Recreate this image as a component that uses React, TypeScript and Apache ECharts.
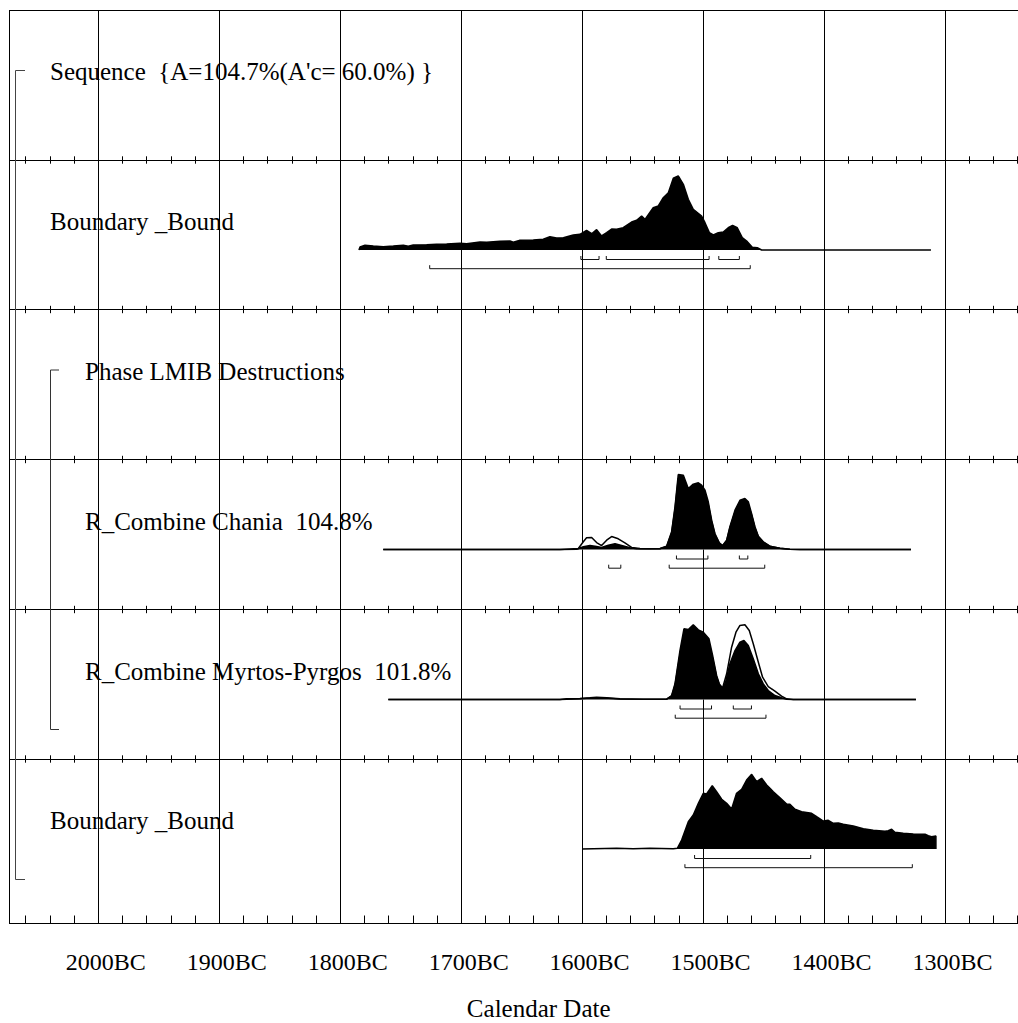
import React, { useEffect, useRef } from "react";
import * as echarts from "echarts";

// ---------- data ----------
const tickYears = [-2000, -1900, -1800, -1700, -1600, -1500, -1400, -1300];
const tickLabels = ["2000BC", "1900BC", "1800BC", "1700BC", "1600BC", "1500BC", "1400BC", "1300BC"];

const rowLabels = [
  "Sequence  {A=104.7%(A'c= 60.0%) }",
  "Boundary _Bound",
  "Phase LMIB Destructions",
  "R_Combine Chania  104.8%",
  "R_Combine Myrtos-Pyrgos  101.8%",
  "Boundary _Bound",
];
const axisTitle = "Calendar Date";

// [year (negative = BC), relative probability]
const boundaryStartPosterior: [number, number][] = [
  [-1784.5, 0], [-1783.6, 0.04], [-1779.5, 0.063], [-1772.6, 0.053], [-1764.4, 0.044],
  [-1756.1, 0.053], [-1747.8, 0.063], [-1743.7, 0.049], [-1739.6, 0.067], [-1728.5, 0.071],
  [-1720.3, 0.076], [-1712.0, 0.08], [-1701.0, 0.089], [-1695.5, 0.084], [-1684.4, 0.107],
  [-1678.9, 0.103], [-1667.9, 0.116], [-1659.6, 0.12], [-1656.9, 0.103], [-1651.4, 0.129],
  [-1640.4, 0.133], [-1632.1, 0.143], [-1626.6, 0.177], [-1621.1, 0.16], [-1615.5, 0.164],
  [-1607.3, 0.2], [-1601.8, 0.209], [-1596.3, 0.263], [-1592.1, 0.217], [-1588.0, 0.271],
  [-1583.9, 0.187], [-1579.7, 0.231], [-1575.6, 0.28], [-1571.5, 0.276], [-1566.0, 0.297],
  [-1559.1, 0.373], [-1554.9, 0.396], [-1550.8, 0.453], [-1548.0, 0.409], [-1541.2, 0.564],
  [-1537.0, 0.587], [-1532.9, 0.697], [-1528.7, 0.764], [-1524.6, 0.956], [-1520.5, 0.987],
  [-1516.3, 0.876], [-1512.2, 0.676], [-1508.1, 0.543], [-1501.2, 0.453], [-1498.4, 0.364],
  [-1494.8, 0.231], [-1491.5, 0.2], [-1487.4, 0.231], [-1483.3, 0.24], [-1479.2, 0.297],
  [-1475.6, 0.329], [-1471.7, 0.297], [-1467.6, 0.164], [-1463.4, 0.111], [-1459.3, 0.036],
  [-1455.2, 0.031], [-1451.6, 0], [-1311.6, 0],
];

const chaniaLikelihood: [number, number][] = [
  [-1764.4, 0], [-1618.3, 0], [-1603.1, 0.013], [-1599.0, 0.103], [-1596.3, 0.156],
  [-1592.1, 0.16], [-1588.0, 0.093], [-1583.9, 0.053], [-1579.7, 0.124], [-1575.6, 0.173],
  [-1570.1, 0.143], [-1564.6, 0.089], [-1559.1, 0.027], [-1552.2, 0.013], [-1535.6, 0.01],
  [-1530.1, 0.04], [-1526.0, 0.22], [-1523.2, 0.54], [-1520.5, 0.95], [-1516.3, 0.94],
  [-1512.2, 0.78], [-1508.1, 0.83], [-1503.9, 0.85], [-1501.2, 0.82], [-1498.4, 0.75],
  [-1495.7, 0.6], [-1492.9, 0.37], [-1490.2, 0.2], [-1486.6, 0.085], [-1483.8, 0.05],
  [-1480.5, 0.118], [-1477.8, 0.29], [-1473.6, 0.5], [-1469.5, 0.63], [-1465.4, 0.65],
  [-1462.6, 0.6], [-1459.9, 0.46], [-1457.1, 0.29], [-1454.3, 0.17], [-1450.2, 0.098],
  [-1444.7, 0.042], [-1436.4, 0.016], [-1428.2, 0.004], [-1419.9, 0], [-1328.1, 0],
];

const chaniaPosterior: [number, number][] = [
  [-1764.4, 0], [-1618.3, 0], [-1604.5, 0.004], [-1599.0, 0.036], [-1593.5, 0.053],
  [-1588.0, 0.04], [-1583.9, 0.027], [-1578.3, 0.057], [-1572.8, 0.076], [-1567.3, 0.053],
  [-1560.4, 0.023], [-1554.9, 0.009], [-1543.9, 0.009], [-1535.6, 0.013], [-1530.1, 0.044],
  [-1526.0, 0.236], [-1523.2, 0.569], [-1520.5, 1.0], [-1516.3, 0.991], [-1512.2, 0.813],
  [-1508.1, 0.871], [-1503.9, 0.889], [-1501.2, 0.857], [-1498.4, 0.791], [-1495.7, 0.636],
  [-1492.9, 0.391], [-1490.2, 0.213], [-1486.6, 0.089], [-1483.8, 0.053], [-1480.5, 0.124],
  [-1477.8, 0.303], [-1473.6, 0.524], [-1469.5, 0.657], [-1465.4, 0.68], [-1462.6, 0.636],
  [-1459.9, 0.48], [-1457.1, 0.303], [-1454.3, 0.177], [-1450.2, 0.103], [-1444.7, 0.044],
  [-1436.4, 0.017], [-1428.2, 0.004], [-1419.9, 0], [-1328.1, 0],
];

const myrtosLikelihood: [number, number][] = [
  [-1760.2, 0], [-1618.3, 0], [-1601.8, 0.01], [-1588.0, 0.025], [-1568.7, 0.008],
  [-1530.1, 0.004], [-1526.0, 0.045], [-1523.2, 0.19], [-1519.1, 0.6], [-1515.8, 0.87],
  [-1512.2, 0.86], [-1508.1, 0.92], [-1503.9, 0.86], [-1499.8, 0.83], [-1495.1, 0.75],
  [-1492.1, 0.55], [-1488.8, 0.3], [-1486.6, 0.2], [-1483.8, 0.156], [-1480.5, 0.343],
  [-1476.4, 0.697], [-1472.8, 0.897], [-1469.5, 0.987], [-1465.4, 0.996], [-1461.8, 0.92],
  [-1458.5, 0.743], [-1454.3, 0.497], [-1450.8, 0.297], [-1446.1, 0.173], [-1440.6, 0.111],
  [-1435.1, 0.044], [-1430.9, 0.009], [-1425.4, 0], [-1324.0, 0],
];

const myrtosPosterior: [number, number][] = [
  [-1760.2, 0], [-1618.3, 0], [-1612.8, 0.009], [-1601.8, 0.013], [-1593.5, 0.023],
  [-1588.0, 0.031], [-1579.7, 0.023], [-1568.7, 0.009], [-1549.4, 0.004], [-1530.1, 0.004],
  [-1526.0, 0.053], [-1523.2, 0.209], [-1519.1, 0.653], [-1515.8, 0.943], [-1512.2, 0.933],
  [-1508.1, 0.996], [-1503.9, 0.929], [-1499.8, 0.897], [-1495.1, 0.809], [-1492.1, 0.587],
  [-1488.8, 0.32], [-1486.6, 0.209], [-1483.8, 0.143], [-1481.4, 0.231], [-1477.8, 0.476],
  [-1473.6, 0.653], [-1469.5, 0.764], [-1466.2, 0.787], [-1462.6, 0.72], [-1458.5, 0.543],
  [-1454.3, 0.343], [-1450.2, 0.209], [-1446.1, 0.12], [-1440.6, 0.053], [-1435.1, 0.023],
  [-1430.9, 0.004], [-1425.4, 0], [-1324.0, 0],
];

const boundaryEndPosterior: [number, number][] = [
  [-1600.1, 0], [-1590.7, 0.004], [-1571.5, 0.009], [-1557.7, 0.004], [-1543.9, 0.009],
  [-1524.6, 0.004], [-1521.3, 0.009], [-1517.7, 0.12], [-1512.2, 0.364], [-1508.1, 0.453],
  [-1503.9, 0.609], [-1499.8, 0.743], [-1497.1, 0.733], [-1492.4, 0.844], [-1488.8, 0.764],
  [-1484.6, 0.663], [-1480.5, 0.609], [-1476.4, 0.533], [-1472.3, 0.743], [-1468.1, 0.796],
  [-1464.0, 0.92], [-1459.8, 0.996], [-1455.7, 0.897], [-1451.6, 0.943], [-1447.4, 0.853],
  [-1441.9, 0.764], [-1436.4, 0.684], [-1430.9, 0.6], [-1428.2, 0.596], [-1424.0, 0.529],
  [-1418.5, 0.497], [-1410.3, 0.476], [-1406.1, 0.431], [-1400.6, 0.373], [-1396.5, 0.383],
  [-1392.3, 0.343], [-1388.2, 0.347], [-1384.1, 0.329], [-1375.8, 0.307], [-1367.5, 0.271],
  [-1359.3, 0.249], [-1349.6, 0.236], [-1346.9, 0.244], [-1344.1, 0.263], [-1341.4, 0.223],
  [-1334.5, 0.209], [-1326.2, 0.2], [-1316.5, 0.196], [-1313.8, 0.177], [-1311.1, 0.164],
  [-1307.5, 0.173], [-1307.5, 0],
];

// highest posterior density ranges [from, to]
const boundaryStart68: [number, number][] = [[-1601, -1586], [-1580, -1495], [-1487, -1470]];
const boundaryStart95: [number, number][] = [[-1726, -1461]];
const chania68: [number, number][] = [[-1522, -1496], [-1470, -1463]];
const chania95: [number, number][] = [[-1578, -1568], [-1528, -1449]];
const myrtos68: [number, number][] = [[-1519, -1493], [-1475, -1460]];
const myrtos95: [number, number][] = [[-1523, -1448]];
const boundaryEnd68: [number, number][] = [[-1507, -1411]];
const boundaryEnd95: [number, number][] = [[-1515, -1327]];

// ---------- layout ----------
const X_MIN = -2100;
const X_MAX = -1200;
const PX_PER_YEAR = 1.2096;
const OFFSET_X = 9; // container left in page px
const GRID_LEFT = 98.26 - 100 * PX_PER_YEAR - OFFSET_X;
const GRID_WIDTH = (X_MAX - X_MIN) * PX_PER_YEAR;
const ROW_LINES = [10, 160, 309.5, 459.5, 609.5, 759, 923.5];
const BASE_OFFSET = 90; // px from row top to distribution baseline
const UNIT = 75; // px for relative probability 1
const FONT = "'Liberation Serif', 'Times New Roman', serif";

export default function App() {
  const ref = useRef<HTMLDivElement>(null);

  useEffect(() => {
    if (!ref.current) return;
    const chart = echarts.init(ref.current, undefined, { renderer: "svg" });

    const nRows = ROW_LINES.length - 1;
    const grids: any[] = [];
    const xAxes: any[] = [];
    const yAxes: any[] = [];
    for (let i = 0; i < nRows; i++) {
      const top = ROW_LINES[i];
      const h = ROW_LINES[i + 1] - top;
      grids.push({
        left: GRID_LEFT, width: GRID_WIDTH, top, height: h,
        containLabel: false, outerBoundsMode: "none",
      });
      const last = i === nRows - 1;
      // top axis: row line, downward ticks, vertical grid lines
      xAxes.push({
        type: "value", gridIndex: i, position: "top", min: X_MIN, max: X_MAX, interval: 100,
        axisLine: { show: true, onZero: false, lineStyle: { color: "#000", width: 1 } },
        axisTick: { show: i > 0, inside: true, length: 3.7, lineStyle: { color: "#000", width: 1 } },
        minorTick: { show: i > 0, splitNumber: 5, length: 3.7, lineStyle: { color: "#000", width: 1 } },
        axisLabel: { show: false },
        splitLine: { show: true, lineStyle: { color: "#000", width: 1 } },
      });
      // bottom axis: upward ticks (and labels on last row)
      xAxes.push({
        type: "value", gridIndex: i, position: "bottom", min: X_MIN, max: X_MAX, interval: 100,
        axisLine: { show: last, onZero: false, lineStyle: { color: "#000", width: 1 } },
        axisTick: { show: true, inside: true, length: last ? 8 : 3.7, lineStyle: { color: "#000", width: 1 } },
        minorTick: { show: true, splitNumber: 5, length: last ? 8 : 3.7, lineStyle: { color: "#000", width: 1 } },
        axisLabel: {
          show: last,
          margin: 26,
          padding: [0, 0, 0, 15],
          color: "#000",
          fontFamily: FONT,
          fontSize: 24,
          formatter: (v: number) => {
            const k = tickYears.indexOf(Math.round(v));
            return k >= 0 ? tickLabels[k] : "";
          },
        },
        splitLine: { show: false },
      });
      yAxes.push({
        type: "value", gridIndex: i, show: false,
        min: -(h - BASE_OFFSET) / UNIT, max: BASE_OFFSET / UNIT,
      });
    }

    const series: any[] = [];
    const area = (data: [number, number][], row: number, fill: string, z: number) => ({
      type: "line", xAxisIndex: row * 2, yAxisIndex: row, data, symbol: "none", showSymbol: false,
      silent: true, z, lineStyle: { color: "#000", width: 1.5 },
      areaStyle: { color: fill, opacity: 1 },
    });
    const L1 = -9.5 / UNIT, T1 = -6 / UNIT, L2 = -18.7 / UNIT, T2 = -15.2 / UNIT;
    const ranges = (rs: [number, number][], row: number, lineY: number, tickY: number) =>
      rs.map(([a, b]) => ({
        type: "line", xAxisIndex: row * 2, yAxisIndex: row, symbol: "none", showSymbol: false,
        silent: true, z: 4, lineStyle: { color: "#111", width: 1 },
        data: [[a, tickY], [a, lineY], [b, lineY], [b, tickY]],
      }));

    series.push(area(boundaryStartPosterior, 1, "#000", 3));
    series.push(...ranges(boundaryStart68, 1, L1, T1), ...ranges(boundaryStart95, 1, L2, T2));
    series.push(area(chaniaLikelihood, 3, "#fff", 2), area(chaniaPosterior, 3, "#000", 3));
    series.push(...ranges(chania68, 3, L1, T1), ...ranges(chania95, 3, L2, T2));
    series.push(area(myrtosLikelihood, 4, "#fff", 2), area(myrtosPosterior, 4, "#000", 3));
    series.push(...ranges(myrtos68, 4, L1, T1), ...ranges(myrtos95, 4, L2, T2));
    series.push(area(boundaryEndPosterior, 5, "#000", 3));
    series.push(...ranges(boundaryEnd68, 5, L1, T1), ...ranges(boundaryEnd95, 5, L2, T2));

    const labelX = [41, 41, 76, 76, 76, 41];
    const graphic: any[] = [
      { type: "line", shape: { x1: 0.5, y1: ROW_LINES[0], x2: 0.5, y2: ROW_LINES[ROW_LINES.length - 1] },
        style: { stroke: "#000", lineWidth: 1 }, z: 10 },
      { type: "polyline", shape: { points: [[16, 70.5], [6.5, 70.5], [6.5, 879.5], [16, 879.5]] },
        style: { stroke: "#444", lineWidth: 1, fill: null }, z: 10 },
      { type: "polyline", shape: { points: [[50, 370], [41.5, 370], [41.5, 729.5], [50, 729.5]] },
        style: { stroke: "#333", lineWidth: 1, fill: null }, z: 10 },
      ...rowLabels.map((t, i) => ({
        type: "text", x: labelX[i], y: ROW_LINES[i] + 70 - 8.4, z: 10,
        style: { text: t, fill: "#000", font: `25px ${FONT}`, align: "left", verticalAlign: "middle" },
      })),
      { type: "text", x: 538.7 - OFFSET_X, y: 1008.5, z: 10,
        style: { text: axisTitle, fill: "#000", font: `25px ${FONT}`, align: "center", verticalAlign: "middle" } },
    ];

    chart.setOption({
      animation: false,
      backgroundColor: "#fff",
      grid: grids,
      xAxis: xAxes,
      yAxis: yAxes,
      series,
      graphic,
    });
    return () => chart.dispose();
  }, []);

  return (
    <div
      ref={ref}
      style={{ position: "fixed", left: OFFSET_X, top: 0, width: 1018 - OFFSET_X, height: 1023, overflow: "hidden", background: "#fff" }}
    />
  );
}
